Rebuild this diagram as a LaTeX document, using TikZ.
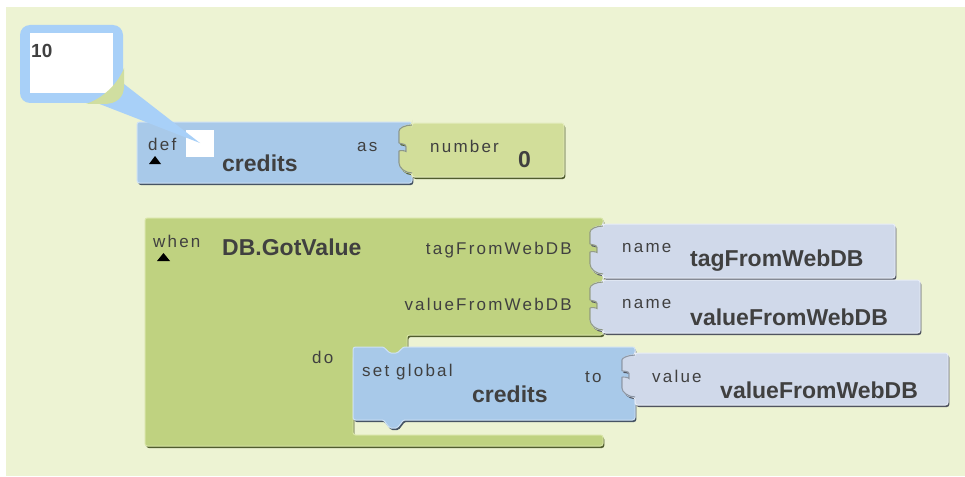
\documentclass[tikz,border=0pt]{standalone}
\usepackage{fontspec}
\setmainfont{Liberation Sans}
\newfontfamily\lblfont[LetterSpace=13]{Liberation Sans}
\definecolor{bgc}{RGB}{237,243,211}
\definecolor{blueblk}{RGB}{168,201,233}
\definecolor{blueedge}{RGB}{205,225,245}
\definecolor{blueshadow}{RGB}{70,84,100}
\definecolor{greenblk}{RGB}{191,210,128}
\definecolor{greenedge}{RGB}{215,228,165}
\definecolor{greenshadow}{RGB}{80,92,45}
\definecolor{numblk}{RGB}{210,222,154}
\definecolor{numedge}{RGB}{228,236,190}
\definecolor{lavblk}{RGB}{208,217,234}
\definecolor{lavedge}{RGB}{232,237,247}
\definecolor{lavshadow}{RGB}{80,84,96}
\definecolor{txt}{RGB}{64,64,64}
\definecolor{bubble}{RGB}{168,208,248}
\definecolor{bubcorner}{RGB}{208,222,160}
\newcommand\tabcurve[3]{({#1},{#2+#3+2}) .. controls ({#1-7},{#2+#3+2}) and ({#1-13},{#2+#3-3}) .. ({#1-13},{#2+0.78*#3}) -- ({#1-13},{#2+0.64*#3}) .. controls ({#1-13},{#2+0.56*#3}) and ({#1-6},{#2+0.58*#3}) .. ({#1-6},{#2+0.5*#3+2}) .. controls ({#1-6},{#2+0.42*#3}) and ({#1-13},{#2+0.44*#3}) .. ({#1-13},{#2+0.36*#3}) -- ({#1-13},{#2+0.22*#3}) .. controls ({#1-13},{#2+5}) and ({#1-7},{#2+2}) .. ({#1},{#2+2})}
\newcommand\plugpath[5]{(#1,#2) -- (#3,#2) -- (#3,#4) -- (#1,#4) -- \tabcurve{#1}{#2}{#5} -- cycle}
\newcommand\whenpath{(145,218) -- (603,218) -- (603,335) -- (407,335) -- (407,356) -- (353,356) -- (353,435) -- (603,435) -- (603,446) -- (145,446) -- cycle}
\newcommand\setpath{(353,347) -- (380,347) .. controls (385,347) and (388,353) .. (393.5,353) .. controls (399,353) and (402,347) .. (407,347) -- (635,347) -- (635,420) -- (407,420) .. controls (402,420) and (399,428) .. (393.5,428) .. controls (388,428) and (385,420) .. (380,420) -- (353,420) -- cycle}
\newcommand\defpath{(137,122) -- (412,122) -- (412,183) -- (137,183) -- cycle}
\tikzset{
  shadowshift/.style={shift={(1.3,2)}},
  blk/.style={rounded corners=2.5pt, line width=1pt},
  socketline/.style={line width=1.1pt, draw opacity=0.55, rounded corners=2.5pt},
  smalltxt/.style={font=\lblfont\fontsize{17}{17}\selectfont, text=txt, inner sep=0pt, anchor=base west},
  bigtxt/.style={font=\bfseries\fontsize{23}{23}\selectfont, text=txt, inner sep=0pt, anchor=base west},
}
\begin{document}
\begin{tikzpicture}[x=1pt,y=-1pt]
\useasboundingbox (0,0) rectangle (965,476);
\fill[white] (0,0) rectangle (965,476);
\fill[bgc] (6,7) rectangle (965,476);
% when block
\fill[blk, greenshadow, shadowshift] \whenpath;
\filldraw[blk, fill=greenblk, draw=greenedge] \whenpath;
% name blocks
\fill[blk, lavshadow, shadowshift] \plugpath{603}{224}{895}{278}{48};
\filldraw[blk, fill=lavblk, draw=lavedge] \plugpath{603}{224}{895}{278}{48};
\draw[socketline, greenshadow] \tabcurve{603}{224}{48};
\fill[blk, lavshadow, shadowshift] \plugpath{603}{280}{920}{333}{48};
\filldraw[blk, fill=lavblk, draw=lavedge] \plugpath{603}{280}{920}{333}{48};
\draw[socketline, greenshadow] \tabcurve{603}{280}{48};
% set block
\fill[blk, blueshadow, shadowshift] \setpath;
\filldraw[blk, fill=blueblk, draw=blueedge] \setpath;
\fill[blk, lavshadow, shadowshift] \plugpath{635}{353}{948}{405}{42};
\filldraw[blk, fill=lavblk, draw=lavedge] \plugpath{635}{353}{948}{405}{42};
\draw[socketline, blueshadow] \tabcurve{635}{353}{42};
% def block
\fill[blk, blueshadow, shadowshift] \defpath;
\filldraw[blk, fill=blueblk, draw=blueedge] \defpath;
\fill[blk, greenshadow, shadowshift] \plugpath{412}{123}{564}{177}{48};
\filldraw[blk, fill=numblk, draw=numedge] \plugpath{412}{123}{564}{177}{48};
\draw[socketline, blueshadow] \tabcurve{412}{123}{48};
% white name box in def
\fill[white] (186,130) rectangle (214,157);
% drop-down triangles
\fill[black] (149,164) -- (155,156) -- (161,164) -- cycle;
\fill[black] (157,261) -- (163.5,253) -- (170,261) -- cycle;
% comment bubble tail and bubble
\fill[bubble] (97,103) -- (124,84) -- (200,143) -- cycle;
\fill[bubble, rounded corners=10pt] (20,25) rectangle (123,103);
\fill[white] (30,33) rectangle (113,93);
\fill[bubcorner] (124,68) .. controls (119,82) and (104,98) .. (86,104) -- (104,104) .. controls (117,104) and (124,97) .. (124,86) -- cycle;
% texts
\node[font=\bfseries\fontsize{19}{19}\selectfont, text=txt, inner sep=0pt, anchor=base west] (ten) at (31,58) {10};
\node[smalltxt] (defl) at (148,150) {def};
\node[bigtxt] (defn) at (222,171) {credits};
\node[smalltxt] (asl) at (357,151) {as};
\node[smalltxt] (numl) at (430,152) {number};
\node[bigtxt] (numv) at (518,167) {0};
\node[smalltxt] (whenl) at (153,247) {when};
\node[bigtxt] (evt) at (222,255) {DB.GotValue};
\node[smalltxt, anchor=base east] (p1) at (572,254) {tagFromWebDB};
\node[smalltxt, anchor=base east] (p2) at (572,310) {valueFromWebDB};
\node[smalltxt] (n1) at (622,252) {name};
\node[bigtxt] (n1v) at (690,266) {tagFromWebDB};
\node[smalltxt] (n2) at (622,308) {name};
\node[bigtxt] (n2v) at (690,325) {valueFromWebDB};
\node[smalltxt] (dol) at (312,363) {do};
\node[smalltxt] (setl) at (362,376) {set global};
\node[bigtxt] (setv) at (472,402) {credits};
\node[smalltxt] (tol) at (585,382) {to};
\node[smalltxt] (vall) at (652,382) {value};
\node[bigtxt] (valv) at (720,398) {valueFromWebDB};
\end{tikzpicture}
\end{document}
